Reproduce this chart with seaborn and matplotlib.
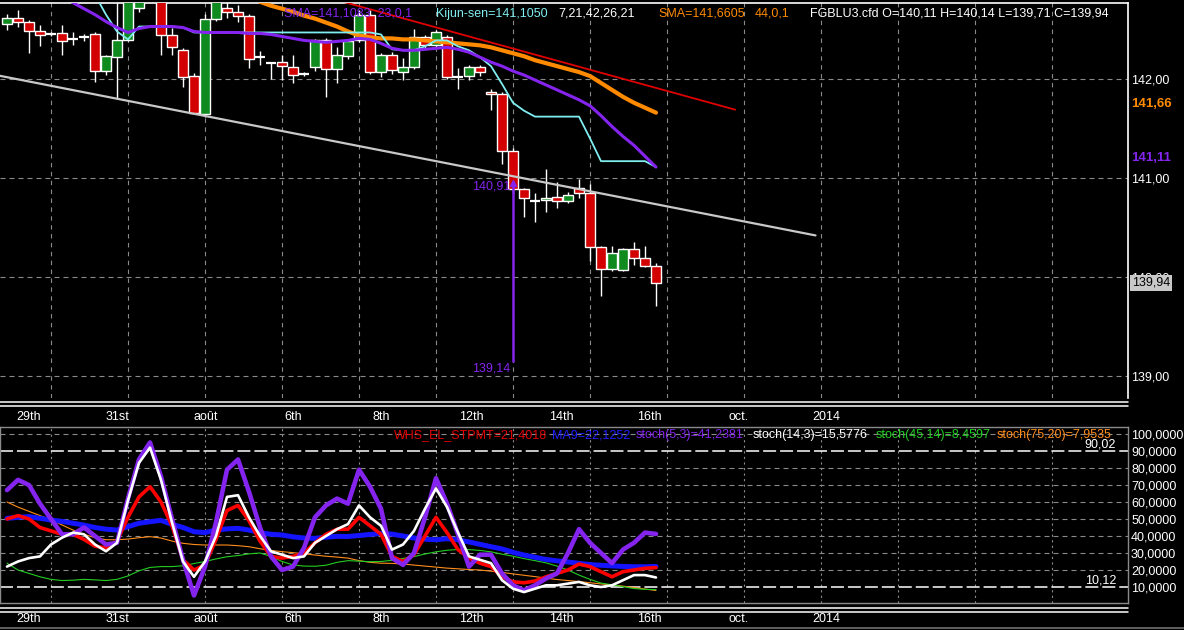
import numpy as np
import pandas as pd
import matplotlib
matplotlib.use('Agg')
import matplotlib.pyplot as plt
from matplotlib.lines import Line2D
import seaborn as sns

# ---------------- data ----------------
# FGBLU3.cfd candles, one entry per bar
opens = [142.56, 142.62, 142.58, 142.48, 142.45, 142.46, 142.39, 142.41, 142.45, 142.08,
         142.22, 142.39, 142.72, 142.95, 142.90, 142.44, 142.29, 142.03, 141.65, 142.61,
         142.72, 142.68, 142.64, 142.22, 142.16, 142.17, 142.12, 142.05, 142.12, 142.39,
         142.10, 142.23, 142.39, 142.65, 142.07, 142.24, 142.07, 142.12, 142.42, 142.34,
         142.42, 142.02, 142.03, 142.12, 141.87, 141.85, 141.27, 140.89, 140.77, 140.78,
         140.81, 140.77, 140.90, 140.85, 140.30, 140.08, 140.07, 140.28, 140.19, 140.11]
highs = [142.66, 142.70, 142.60, 142.55, 142.47, 142.55, 142.47, 142.45, 142.47, 142.24,
         142.80, 142.95, 142.95, 143.05, 142.95, 142.52, 142.31, 142.06, 142.66, 142.90,
         142.80, 142.75, 142.66, 142.28, 142.17, 142.24, 142.24, 142.07, 142.40, 142.41,
         142.32, 142.40, 142.70, 142.70, 142.26, 142.27, 142.21, 142.51, 142.44, 142.50,
         142.44, 142.11, 142.14, 142.14, 141.90, 141.87, 141.30, 140.90, 140.85, 141.09,
         140.96, 140.86, 140.99, 140.94, 140.31, 140.31, 140.29, 140.35, 140.31, 140.14]
lows = [142.50, 142.53, 142.26, 142.33, 142.43, 142.24, 142.34, 142.38, 141.97, 142.04,
        141.81, 142.38, 142.68, 142.85, 142.24, 142.24, 141.92, 141.65, 141.62, 142.59,
        142.62, 142.58, 142.11, 142.14, 142.00, 141.99, 141.96, 142.03, 142.08, 141.82,
        141.96, 142.20, 142.37, 142.05, 142.02, 142.05, 141.99, 142.10, 142.30, 142.32,
        142.00, 141.90, 141.99, 142.03, 141.69, 141.14, 140.85, 140.61, 140.56, 140.66,
        140.70, 140.75, 140.80, 140.16, 139.81, 140.06, 140.06, 140.12, 140.10, 139.71]
closes = [142.62, 142.58, 142.48, 142.44, 142.45, 142.38, 142.40, 142.42, 142.08, 142.23,
          142.39, 142.90, 142.90, 142.90, 142.44, 142.32, 142.02, 141.66, 142.61, 142.85,
          142.68, 142.64, 142.20, 142.22, 142.16, 142.13, 142.04, 142.05, 142.39, 142.10,
          142.24, 142.38, 142.65, 142.07, 142.24, 142.09, 142.12, 142.42, 142.34, 142.47,
          142.02, 142.02, 142.12, 142.07, 141.85, 141.27, 140.89, 140.80, 140.77, 140.80,
          140.77, 140.83, 140.85, 140.30, 140.08, 140.24, 140.28, 140.19, 140.11, 139.94]

# overlays (aligned to the last bars)
sma23 = [142.95, 142.86, 142.77, 142.71, 142.65, 142.58, 142.52, 142.47, 142.51, 142.53,
         142.53, 142.53, 142.52, 142.48, 142.47, 142.47, 142.47, 142.47, 142.46, 142.46,
         142.45, 142.43, 142.41, 142.39, 142.38, 142.37, 142.38, 142.39, 142.41, 142.40,
         142.36, 142.31, 142.29, 142.29, 142.30, 142.31, 142.32, 142.30, 142.27, 142.22,
         142.17, 142.13, 142.08, 142.04, 141.99, 141.94, 141.89, 141.84, 141.79, 141.73,
         141.63, 141.52, 141.42, 141.33, 141.22, 141.11]
kijun = [142.85, 142.65, 142.48, 142.40, 142.53, 142.53, 142.53, 142.53, 142.52, 142.47,
         142.47, 142.47, 142.47, 142.47, 142.47, 142.47, 142.47, 142.47, 142.47, 142.47,
         142.47, 142.47, 142.47, 142.47, 142.47, 142.47, 142.45, 142.30, 142.29, 142.29,
         142.33, 142.39, 142.39, 142.33, 142.29, 142.22, 142.13, 141.95, 141.76, 141.68,
         141.62, 141.62, 141.62, 141.62, 141.62, 141.40, 141.17, 141.17, 141.17, 141.17,
         141.17, 141.11]
sma44 = [143.05, 143.00, 142.95, 142.89, 142.83, 142.78, 142.74, 142.71, 142.68, 142.64,
         142.61, 142.57, 142.53, 142.48, 142.44, 142.42, 142.41, 142.41, 142.40, 142.40,
         142.39, 142.38, 142.37, 142.36, 142.35, 142.34, 142.32, 142.29, 142.26, 142.23,
         142.19, 142.16, 142.13, 142.10, 142.07, 142.03, 141.96, 141.89, 141.82, 141.76,
         141.71, 141.66]

# hand-drawn trendlines (bar, price)
red_trend_x = [24, 66.2]
red_trend_y = [142.98, 141.69]
grey_trend_x = [-1, 73.5]
grey_trend_y = [142.04, 140.42]

low_mark_bar = 46
low_mark_vals = [140.91, 139.14]

# lower panel oscillators
whs_stpmt = [50, 52, 50, 45, 43, 41, 41, 38, 34, 33,
             37, 51, 63, 69, 60, 46, 26, 20, 23, 38,
             55, 58, 49, 37, 28, 27, 28, 30, 36, 41,
             44, 44, 51, 46, 41, 28, 25, 29, 40, 51,
             42, 32, 27, 24, 22, 16, 13, 12.5, 13.5, 16,
             18, 20, 23.5, 22, 19, 16, 19, 20, 21, 21.4]
ma9 = [50.4, 51, 51.4, 50.4, 49.4, 48.6, 47.5, 46.4, 45, 44,
       43.5, 45.5, 47.5, 48.4, 49.2, 46.8, 45, 42.5, 42, 43.5,
       44.2, 44.5, 43.5, 42, 41, 40.6, 39.5, 38.8, 38.6, 39.3,
       39.8, 39.7, 40.3, 40.9, 41.5, 41.1, 40.0, 38.8, 38.1, 37.8,
       38.4, 37.7, 36.5, 35.1, 33.7, 32.4, 30.4, 28.8, 27.5, 26.2,
       25.4, 24.7, 23.9, 23.2, 22.8, 22.4, 22.1, 21.9, 21.9, 22.1]
stoch_5_3 = [67, 73, 70, 59, 50, 41, 41, 45, 40, 35,
             36, 62, 85, 95, 75, 50, 26, 5, 22, 48,
             79, 85, 66, 45, 28, 20, 22, 33, 51, 58,
             62, 59, 79, 69, 56, 27, 23, 30, 51, 74,
             59, 41, 22, 29, 29, 18, 11, 8, 11, 15,
             18, 30, 44, 36, 30, 24, 32, 36, 42, 41.2]
stoch_14_3 = [22, 25, 27, 28, 35, 39, 42, 41, 35, 31,
              36, 61, 83, 92, 73, 48, 25, 16, 25, 40,
              63, 64, 51, 40, 31, 29, 27, 28, 36, 40,
              44, 47, 58, 51, 46, 32, 35, 43, 56, 68,
              57, 42, 28, 26, 24, 14, 9, 7, 9, 11,
              11, 12, 13, 11, 10, 11, 14, 17, 17, 15.6]
stoch_45_14 = [24, 20, 18, 16, 14.5, 13.8, 14, 14.5, 14.2, 13.8,
               14.5, 16.5, 19.5, 21.5, 22, 22, 22.5, 23.8, 25, 26.5,
               27.8, 28.5, 29.5, 30, 28, 25, 23, 22.3, 22.2, 22.8,
               24.5, 25.5, 25.2, 24.9, 25, 25.7, 26.8, 27.9, 29.4, 30.7,
               31.6, 32.1, 32, 31.5, 30.7, 29.3, 28.1, 26.7, 25.5, 24.2,
               22.3, 20, 17, 14.5, 12.3, 11.3, 10.2, 9.1, 8.6, 8.46]
stoch_75_20 = [60, 57, 54.5, 52, 49.5, 46.5, 43.5, 41, 39, 37.8,
               37.8, 38.2, 39, 39.6, 38.8, 37, 35.7, 35, 34.7, 34.7,
               34.7, 34.3, 33.7, 32.5, 31.5, 30.8, 30.2, 29.5, 28.8, 28.1,
               27.6, 27, 25.5, 24.5, 24, 23.9, 23.5, 22.9, 22.3, 21.7,
               21.1, 20.7, 20.3, 20, 19.3, 18.6, 17.7, 16.9, 16.1, 15.2,
               14.4, 13.8, 13.2, 12.5, 11.8, 11.2, 10.5, 9.7, 8.8, 7.95]
band_levels = [90.02, 10.12]

date_labels = ['29th', '31st', 'août', '6th', '8th', '12th', '14th', '16th', 'oct.', '2014']
date_bars = [2, 10, 18.1, 26, 34, 42.2, 50.4, 58.4, 66.5, 74.5]
price_ticks = [139, 140, 141, 142]
osc_ticks = [10, 20, 30, 40, 50, 60, 70, 80, 90, 100]

# ---------------- style ----------------
sns.set_style('dark', {'axes.facecolor': 'black', 'figure.facecolor': 'black',
                       'axes.grid': False, 'text.color': 'white',
                       'xtick.color': 'white', 'ytick.color': 'white'})
plt.rcParams['font.family'] = ['Liberation Sans', 'DejaVu Sans']
plt.rcParams['font.size'] = 9

RED, GREEN = '#d20000', '#0f8a1e'
PURPLE, CYAN, ORANGE = '#8424ee', '#80eef0', '#ff8a00'
GRID = '#8a8a8a'

W, H = 1184, 630
def fx(px):
    return px / W
def fy(py):
    return 1 - py / H

def comma(v, nd):
    return f'{v:.{nd}f}'.replace('.', ',')

fig = plt.figure(figsize=(W / 100, H / 100), dpi=100)
ax1 = fig.add_axes([0, fy(398), fx(1128), (398 - 3) / H])
ax2 = fig.add_axes([0, fy(603), fx(1128), (603 - 427) / H])

nbar = len(opens)
def bars_for(series):
    return np.arange(nbar - len(series), nbar)

#%% price panel
for b in np.arange(4, 102, 7):
    ax1.axvline(b, color=GRID, lw=0.8, ls=(0, (4, 4)), zorder=1)
    ax2.axvline(b, color=GRID, lw=0.8, ls=(0, (2, 3)), zorder=1)
for p in price_ticks:
    ax1.axhline(p, color=GRID, lw=0.8, ls=(0, (4.5, 3.6)), zorder=1)

df = pd.DataFrame({'bar': np.arange(nbar), 'open': opens, 'high': highs,
                   'low': lows, 'close': closes})
df['lo'] = df[['open', 'close']].min(axis=1)
df['size'] = (df.close - df.open).abs()
df['col'] = np.where(df.close >= df.open, GREEN, RED)
doji = df['size'] < 0.012

ax1.vlines(df.bar, df.low, df.high, color='white', lw=1, zorder=2)
body = df[~doji]
ax1.bar(body.bar, body['size'], bottom=body.lo, width=0.9, color=body.col,
        edgecolor='white', linewidth=1, zorder=3)
d = df[doji]
ax1.hlines(d.close, d.bar - 0.45, d.bar + 0.45, color='white', lw=1.6, zorder=3)

sns.lineplot(x=grey_trend_x, y=grey_trend_y, ax=ax1, color='#c8c8c8', lw=1.6, zorder=4)
sns.lineplot(x=red_trend_x, y=red_trend_y, ax=ax1, color='#e00000', lw=1.3, zorder=4)
sns.lineplot(x=bars_for(sma44), y=sma44, ax=ax1, color=ORANGE, lw=3, zorder=5)
sns.lineplot(x=bars_for(kijun), y=kijun, ax=ax1, color=CYAN, lw=1.3, zorder=5)
sns.lineplot(x=bars_for(sma23), y=sma23, ax=ax1, color=PURPLE, lw=2.2, zorder=6)

# lowest-low marker
ax1.vlines(low_mark_bar, low_mark_vals[1], low_mark_vals[0] + 0.04, color=PURPLE, lw=1.8, zorder=6)
ax1.plot(low_mark_bar, low_mark_vals[0] + 0.04, marker='^', ms=4, color=PURPLE, zorder=6)
ax1.text(low_mark_bar - 0.2, low_mark_vals[0], comma(low_mark_vals[0], 2), color=PURPLE,
         ha='right', va='center', fontsize=9, zorder=7)
ax1.text(low_mark_bar - 0.2, low_mark_vals[1], comma(low_mark_vals[1], 2), color=PURPLE,
         ha='right', va='top', fontsize=9, zorder=7)

ax1.set_xlim(-7 / 11, (1128 - 7) / 11)
ax1.set_ylim(139 - 22 / 99, 142 + 76 / 99)
ax1.yaxis.tick_right()
ax1.set_yticks(price_ticks)
ax1.set_yticklabels([comma(p, 2) for p in price_ticks])
ax1.tick_params(axis='y', length=0, pad=2.2, labelsize=9, colors='white')
ax1.set_xticks(date_bars)
ax1.set_xticklabels(date_labels)
ax1.tick_params(axis='x', length=0, pad=9.4, labelsize=9, colors='white')
ax1.set_xlabel('')
ax1.set_ylabel('')
for s in ['left', 'bottom']:
    ax1.spines[s].set_visible(False)
for s in ['top', 'right']:
    ax1.spines[s].set_color('white')
    ax1.spines[s].set_linewidth(1.2)

# last values on the price scale
ax1.annotate(comma(sma44[-1], 2), xy=(1, sma44[-1]), xycoords=('axes fraction', 'data'),
             xytext=(3, 9), textcoords='offset pixels', va='center', ha='left',
             color=ORANGE, fontweight='bold', fontsize=9.5, annotation_clip=False)
ax1.annotate(comma(sma23[-1], 2), xy=(1, sma23[-1]), xycoords=('axes fraction', 'data'),
             xytext=(3, 9), textcoords='offset pixels', va='center', ha='left',
             color=PURPLE, fontweight='bold', fontsize=9.5, annotation_clip=False)
ax1.annotate(comma(closes[-1], 2), xy=(1, closes[-1]), xycoords=('axes fraction', 'data'),
             xytext=(4, 0), textcoords='offset pixels', va='center', ha='left',
             color='black', fontsize=9, annotation_clip=False, zorder=10,
             bbox=dict(boxstyle='square,pad=0.15', fc='#c8c8c8', ec='none'))

#%% oscillator panel
for v in [20, 30, 40, 50, 60, 70, 80, 100]:
    ax2.axhline(v, color=GRID, lw=0.8, ls=(0, (4.5, 3.6)), zorder=1)
for v in band_levels:
    ax2.axhline(v, color='white', lw=1.1, ls=(0, (8.5, 2.6)), zorder=1)
    ax2.text((1116 - 7) / 11, v, comma(v, 2), color='white', ha='right', va='bottom',
             fontsize=9, zorder=8)

bars = np.arange(nbar)
sns.lineplot(x=bars, y=stoch_75_20, ax=ax2, color='#ff8c1a', lw=0.8, zorder=2)
sns.lineplot(x=bars, y=stoch_45_14, ax=ax2, color='#22cc22', lw=0.8, zorder=2)
sns.lineplot(x=bars, y=ma9, ax=ax2, color='#1414ff', lw=3.6, zorder=3)
sns.lineplot(x=bars, y=whs_stpmt, ax=ax2, color='#ff0000', lw=2.6, zorder=4)
sns.lineplot(x=bars, y=stoch_5_3, ax=ax2, color=PURPLE, lw=3.3, zorder=5)
sns.lineplot(x=bars, y=stoch_14_3, ax=ax2, color='white', lw=1.9, zorder=6)

ax2.set_xlim(-7 / 11, (1128 - 7) / 11)
ax2.set_ylim((604 - 603) / 1.7, (604 - 427) / 1.7)
ax2.yaxis.tick_right()
ax2.set_yticks(osc_ticks)
ax2.set_yticklabels([comma(v, 4) for v in osc_ticks])
ax2.tick_params(axis='y', length=0, pad=2.2, labelsize=9, colors='white')
ax2.set_xticks(date_bars)
ax2.set_xticklabels(date_labels)
ax2.tick_params(axis='x', length=0, pad=7.2, labelsize=9, colors='white')
ax2.set_xlabel('')
ax2.set_ylabel('')
for s in ax2.spines.values():
    s.set_color(GRID)
    s.set_linewidth(1)

#%% header texts
top_items = [(284, 'SMA=141,1083  23,0,1', PURPLE),
             (436, 'Kijun-sen=141,1050', CYAN),
             (558, '7,21,42,26,21', 'white'),
             (658, 'SMA=141,6605', ORANGE),
             (755, '44,0,1', ORANGE),
             (810, 'FGBLU3.cfd O=140,11 H=140,14 L=139,71 C=139,94', 'white')]
for x, s, c in top_items:
    fig.text(fx(x), fy(14), s, color=c, ha='left', va='center', fontsize=9, zorder=10)

low_items = [(394, 'WHS_EL_STPMT=21,4018', '#e00000'),
             (552, 'MA9=22,1252', '#2020ff'),
             (636, 'stoch(5,3)=41,2381', PURPLE),
             (753, 'stoch(14,3)=15,5776', 'white'),
             (876, 'stoch(45,14)=8,4597', '#22cc22'),
             (997, 'stoch(75,20)=7,9535', '#ff8c1a')]
for x, s, c in low_items:
    fig.text(fx(x), fy(435), s, color=c, ha='left', va='center', fontsize=9, zorder=10)

# panel separators
for y in [402, 406, 608, 612]:
    fig.add_artist(Line2D([0, fx(1128)], [fy(y), fy(y)], color='white', lw=1.1))
fig.add_artist(Line2D([0, 1], [fy(628), fy(628)], color='#707070', lw=1.2))

fig.savefig('out.png', dpi=100, facecolor='black')
